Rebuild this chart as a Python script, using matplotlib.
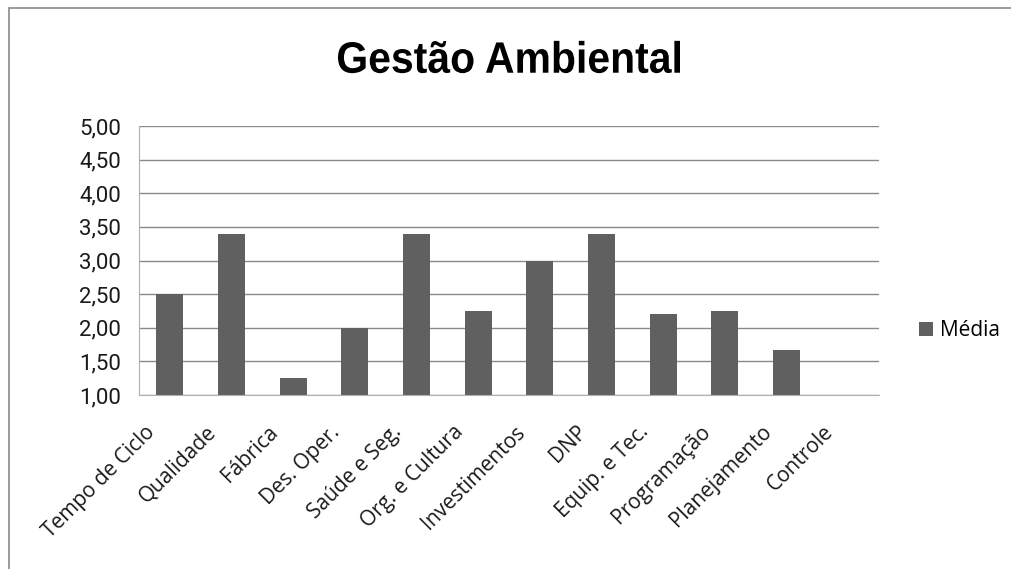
import numpy as np
import matplotlib
matplotlib.use("Agg")
import matplotlib.pyplot as plt
from matplotlib.patches import Rectangle, PathPatch
from matplotlib.textpath import TextPath
from matplotlib.font_manager import FontProperties
from matplotlib.ticker import FuncFormatter
import matplotlib.transforms as mtransforms

categorias = ["Tempo de Ciclo", "Qualidade", "Fábrica", "Des. Oper.", "Saúde e Seg.",
              "Org. e Cultura", "Investimentos", "DNP", "Equip. e Tec.", "Programação",
              "Planejamento", "Controle"]
media = [2.50, 3.40, 1.25, 2.00, 3.40, 2.25, 3.00, 3.40, 2.20, 2.25, 1.67, 1.00]
yticks = [1.0, 1.5, 2.0, 2.5, 3.0, 3.5, 4.0, 4.5, 5.0]
titulo = "Gestão Ambiental"

W, H = 1011, 569
fig = plt.figure(figsize=(W / 100, H / 100), dpi=100)
ax = fig.add_axes([139 / W, 1 - 395 / H, (879 - 139) / W, (395 - 126) / H])

x = np.arange(len(categorias))
bars = ax.bar(x, media, width=0.44, color="#606060", label="Média", zorder=3)

ax.set_xlim(-0.5, len(categorias) - 0.5)
ax.set_ylim(1, 5)
ax.set_yticks(yticks)
ax.yaxis.set_major_formatter(FuncFormatter(lambda v, p: f"{v:.2f}".replace(".", ",")))
ax.grid(axis="y", color="#8a8a8a", lw=1, zorder=0)
ax.set_axisbelow(True)

for s in ["top", "right"]:
    ax.spines[s].set_visible(False)
ax.spines["left"].set_color("#b0b0b0")
ax.spines["bottom"].set_color("#b0b0b0")
ax.spines["bottom"].set_zorder(4)

ax.tick_params(axis="y", length=0, pad=13, labelsize=16, labelcolor="#1a1a1a")
for lab in ax.get_yticklabels():
    lab.set_fontfamily("Roboto")

# x labels rotated 45, end placed left of category centre
ax.set_xticks(x)
ax.set_xticklabels([])
ax.tick_params(axis="x", length=0)
offset = mtransforms.ScaledTranslation(-18 / 100, -34 / 100, fig.dpi_scale_trans)
trans = mtransforms.blended_transform_factory(ax.transData, ax.transAxes) + offset
for xi, nome in zip(x, categorias):
    ax.text(xi, 0, nome, transform=trans, rotation=45, rotation_mode="anchor",
            ha="right", va="center", fontsize=15, family="Open Sans", color="#1a1a1a")

# condensed bold title: squeeze a text path horizontally
tp = TextPath((0, 0), titulo, size=44, prop=FontProperties(family="Liberation Sans", weight="bold"))
bb = tp.get_extents()
sx = 342 / bb.width
cx, cy = 509, H - 57
tr = mtransforms.Affine2D().translate(-(bb.x0 + bb.width / 2), -(bb.y0 + bb.height / 2)).scale(sx, 1).translate(cx, cy)
fig.patches.append(PathPatch(tp, transform=tr, facecolor="black", edgecolor="none"))

leg = fig.legend(handles=[bars], labels=["Média"], loc="center left",
                 bbox_to_anchor=(919 / W, 1 - 331 / H), frameon=False,
                 borderaxespad=0, borderpad=0,
                 handlelength=0.65, handleheight=0.65, handletextpad=0.35,
                 prop={"family": "Open Sans", "size": 15})

fig.patches.append(Rectangle((9 / W, -0.1), 1.2, 1 - 8 / H + 0.1, transform=fig.transFigure,
                             fill=False, edgecolor="#8a8a8a", lw=1.2))

fig.savefig("out.png", dpi=100)
